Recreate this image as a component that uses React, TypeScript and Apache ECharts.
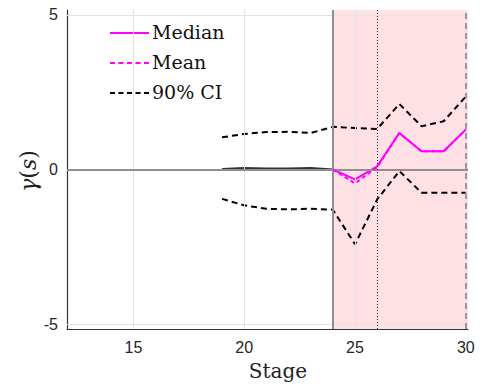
import React, { useEffect, useRef } from "react";
import * as echarts from "echarts";

const ciStages = [19, 20, 21, 22, 23, 24, 25, 26, 27, 28, 29, 30];
const ciUpper = [1.04, 1.15, 1.21, 1.22, 1.18, 1.38, 1.34, 1.31, 2.12, 1.4, 1.56, 2.36];
const ciLower = [-0.95, -1.16, -1.27, -1.29, -1.27, -1.3, -2.42, -0.97, -0.05, -0.75, -0.75, -0.75];
const preStages = [19, 20, 21, 22, 23, 24];
const medianPre = [0.02, 0.05, 0.03, 0.03, 0.05, 0.0];
const postStages = [24, 25, 26, 27, 28, 29, 30];
const medianPost = [0.0, -0.32, 0.1, 1.18, 0.59, 0.59, 1.29];
const meanPost = [0.0, -0.45, 0.08, 1.18, 0.59, 0.59, 1.29];
const xTicks = [15, 20, 25, 30];
const yTicks = [-5, 0, 5];
const shadeRange = [24, 30.1];
const changeStage = 24;
const dottedStage = 26;
const endStage = 30;

const pairs = (xs: number[], ys: number[]) => xs.map((x, i) => [x, ys[i]]);

const SERIF = "'DejaVu Serif', 'Liberation Serif', serif";
const SANS = "'Liberation Sans', Arial, sans-serif";

export default function App() {
  const ref = useRef<HTMLDivElement>(null);
  useEffect(() => {
    document.body.style.margin = "0";
    if (!ref.current) return;
    const chart = echarts.init(ref.current, null, { renderer: "svg" });
    const gridLine = { color: "#e3e3e3", width: 1, type: "solid" as const };
    chart.setOption({
      animation: false,
      grid: { left: 67, top: 10, right: 12, bottom: 56 },
      xAxis: {
        type: "value",
        min: 12,
        max: 30.1,
        splitLine: { show: false },
        axisLine: { show: true, onZero: false, lineStyle: { color: "#333", width: 1.2 } },
        axisTick: { show: true, inside: true, length: 4, customValues: xTicks, lineStyle: { color: "#333" } },
        axisLabel: { customValues: xTicks, color: "#262626", fontSize: 16, fontFamily: SANS, margin: 10 },
      },
      yAxis: {
        type: "value",
        min: -5.16,
        max: 5.16,
        splitLine: { show: false },
        axisLine: { show: true, onZero: false, lineStyle: { color: "#333", width: 1.2 } },
        axisTick: { show: true, inside: true, length: 4, customValues: yTicks, lineStyle: { color: "#333" } },
        axisLabel: { customValues: yTicks, color: "#262626", fontSize: 16, fontFamily: SANS, margin: 9 },
      },
      series: [
        {
          type: "line",
          z: 0,
          data: [[12, 0]],
          symbol: "none",
          lineStyle: { width: 0 },
          silent: true,
          markArea: {
            silent: true,
            itemStyle: { color: "rgba(255,182,190,0.42)" },
            data: [[{ xAxis: shadeRange[0] }, { xAxis: shadeRange[1] }]],
          },
        },
        {
          type: "line",
          z: 1,
          data: [[12, 0]],
          symbol: "none",
          lineStyle: { width: 0 },
          silent: true,
          markLine: {
            silent: true,
            symbol: "none",
            label: { show: false },
            data: [
              ...xTicks.map((v) => ({ xAxis: v, lineStyle: gridLine })),
              ...yTicks.filter((v) => v !== 0).map((v) => ({ yAxis: v, lineStyle: gridLine })),
              { yAxis: 0, lineStyle: { color: "#8f8f8f", width: 2, type: "solid" } },
              { xAxis: changeStage, lineStyle: { color: "#8f8f8f", width: 2, type: "solid" } },
              { xAxis: dottedStage, lineStyle: { color: "#222", width: 1, type: [1, 2] } },
              { xAxis: endStage, lineStyle: { color: "#9a9a9a", width: 2, type: [6, 4] } },
            ],
          },
        },
        {
          name: "90% CI",
          type: "line",
          z: 3,
          data: pairs(ciStages, ciUpper),
          symbol: "none",
          lineStyle: { color: "#000", width: 2, type: [6, 4] },
        },
        {
          name: "90% CI lower",
          type: "line",
          z: 3,
          data: pairs(ciStages, ciLower),
          symbol: "none",
          lineStyle: { color: "#000", width: 2, type: [6, 4] },
        },
        {
          name: "Median pre",
          type: "line",
          z: 3,
          data: pairs(preStages, medianPre),
          symbol: "none",
          lineStyle: { color: "#333", width: 2 },
        },
        {
          name: "Median",
          type: "line",
          z: 4,
          data: pairs(postStages, medianPost),
          symbol: "none",
          lineStyle: { color: "#ff00ff", width: 2 },
        },
        {
          name: "Mean",
          type: "line",
          z: 5,
          data: pairs(postStages, meanPost),
          symbol: "none",
          lineStyle: { color: "#ff00ff", width: 2, type: [4, 3] },
        },
      ],
      graphic: [
        { type: "line", shape: { x1: 110, y1: 33, x2: 149, y2: 33 }, style: { stroke: "#ff00ff", lineWidth: 2 } },
        { type: "line", shape: { x1: 110, y1: 63, x2: 149, y2: 63 }, style: { stroke: "#ff00ff", lineWidth: 2, lineDash: [5, 3.5] } },
        { type: "line", shape: { x1: 110, y1: 93, x2: 149, y2: 93 }, style: { stroke: "#000", lineWidth: 2, lineDash: [5, 3.5] } },
        { type: "text", x: 152, y: 32, style: { text: "Median", font: `19px ${SERIF}`, fill: "#111", verticalAlign: "middle" } },
        { type: "text", x: 152, y: 62, style: { text: "Mean", font: `19px ${SERIF}`, fill: "#111", verticalAlign: "middle" } },
        { type: "text", x: 152, y: 92, style: { text: "90% CI", font: `19px ${SERIF}`, fill: "#111", verticalAlign: "middle" } },
        { type: "text", x: 278, y: 371, style: { text: "Stage", font: `20px ${SERIF}`, fill: "#222", align: "center", verticalAlign: "middle" } },
        {
          type: "text",
          x: 28,
          y: 171,
          rotation: Math.PI / 2,
          style: {
            text: "{i|γ}({i|s})",
            font: `22px ${SERIF}`,
            fill: "#222",
            align: "center",
            verticalAlign: "middle",
            rich: { i: { fontStyle: "italic", fontSize: 22, fontFamily: SERIF, fill: "#222" } },
          },
        },
      ],
    });
    return () => chart.dispose();
  }, []);
  return <div ref={ref} style={{ width: 480, height: 385 }} />;
}
